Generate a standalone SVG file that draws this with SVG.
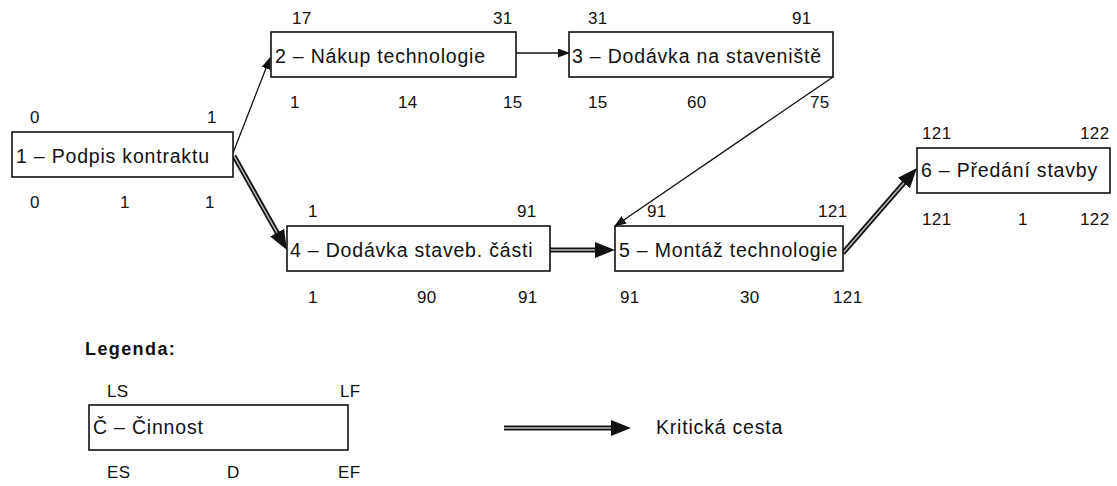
<svg xmlns="http://www.w3.org/2000/svg" width="1117" height="486" viewBox="0 0 1117 486">
<style>
.box{fill:#fff;stroke:#111;stroke-width:1.6}
.t{font-family:"Liberation Sans",Arial,sans-serif;font-size:19.5px;letter-spacing:0.8px;fill:#111}
.n{font-family:"Liberation Sans",Arial,sans-serif;font-size:17px;letter-spacing:0.4px;fill:#111}
.lg{font-family:"Liberation Sans",Arial,sans-serif;font-size:18px;letter-spacing:1.4px;font-weight:bold;fill:#111}
.thin{fill:none;stroke:#111;stroke-width:1.3;marker-end:url(#ah)}
.crit{fill:none;stroke:#111;stroke-width:5;marker-end:url(#ahc)}
.critin{fill:none;stroke:#bbb;stroke-width:1.5}
</style>
<defs>
<marker id="ah" markerUnits="userSpaceOnUse" markerWidth="12" markerHeight="10" refX="11" refY="4.5" orient="auto"><path d="M0,0 L12,4.5 L0,9 z" fill="#111"/></marker>
<marker id="ahc" markerUnits="userSpaceOnUse" markerWidth="20" markerHeight="16" refX="10" refY="8" orient="auto"><path d="M0,0 L20,8 L0,16 z" fill="#111"/></marker>
</defs>
<g id="connectors">
<path class="thin" d="M233,153 L270,58"/>
<path class="thin" d="M516,53 L569,53"/>
<path class="thin" d="M833,77 L615,226"/>
<path class="crit" d="M234,156 L282,241.3"/>
<path class="critin" d="M234,156 L277,232.7"/>
<path class="crit" d="M550,250 L605,250"/>
<path class="critin" d="M550,250 L595,250"/>
<path class="crit" d="M843,253 L910.4,175.5"/>
<path class="critin" d="M843,253 L903.9,183.1"/>
</g>
<g id="node1">
<rect class="box" x="12" y="132" width="221" height="45"/>
<text class="t" x="16" y="163">1 – Podpis kontraktu</text>
<text class="n" x="30" y="123">0</text><text class="n" x="207" y="123">1</text>
<text class="n" x="30" y="208">0</text><text class="n" x="120" y="208">1</text><text class="n" x="205" y="208">1</text>
</g>
<g id="node2">
<rect class="box" x="271" y="32" width="245" height="45"/>
<text class="t" x="275" y="63">2 – Nákup technologie</text>
<text class="n" x="292" y="24">17</text><text class="n" x="493" y="24">31</text>
<text class="n" x="290" y="108">1</text><text class="n" x="398" y="108">14</text><text class="n" x="503" y="108">15</text>
</g>
<g id="node3">
<rect class="box" x="569" y="32" width="264" height="45"/>
<text class="t" x="572" y="63">3 – Dodávka na staveniště</text>
<text class="n" x="588" y="24">31</text><text class="n" x="792" y="24">91</text>
<text class="n" x="588" y="108">15</text><text class="n" x="687" y="108">60</text><text class="n" x="810" y="108">75</text>
</g>
<g id="node4">
<rect class="box" x="287" y="226" width="263" height="45"/>
<text class="t" x="290" y="257">4 – Dodávka staveb. části</text>
<text class="n" x="308" y="217">1</text><text class="n" x="517" y="217">91</text>
<text class="n" x="308" y="303">1</text><text class="n" x="417" y="303">90</text><text class="n" x="518" y="303">91</text>
</g>
<g id="node5">
<rect class="box" x="615" y="226" width="228" height="45"/>
<text class="t" x="619" y="257">5 – Montáž technologie</text>
<text class="n" x="647" y="217">91</text><text class="n" x="818" y="217">121</text>
<text class="n" x="620" y="303">91</text><text class="n" x="740" y="303">30</text><text class="n" x="833" y="303">121</text>
</g>
<g id="node6">
<rect class="box" x="917" y="148" width="193" height="45"/>
<text class="t" x="921" y="177">6 – Předání stavby</text>
<text class="n" x="922" y="139">121</text><text class="n" x="1080" y="139">122</text>
<text class="n" x="922" y="225">121</text><text class="n" x="1018" y="225">1</text><text class="n" x="1080" y="225">122</text>
</g>
<g id="legend">
<text class="lg" x="85" y="355">Legenda:</text>
<rect class="box" x="89" y="405" width="259" height="45"/>
<text class="t" x="93" y="434">Č – Činnost</text>
<text class="n" x="107" y="397">LS</text><text class="n" x="340" y="397">LF</text>
<text class="n" x="107" y="478">ES</text><text class="n" x="227" y="478">D</text><text class="n" x="338" y="478">EF</text>
<path class="crit" d="M504,428 L621,428"/>
<path class="critin" d="M504,428 L611,428"/>
<text class="t" x="656" y="434">Kritická cesta</text>
</g>
</svg>
